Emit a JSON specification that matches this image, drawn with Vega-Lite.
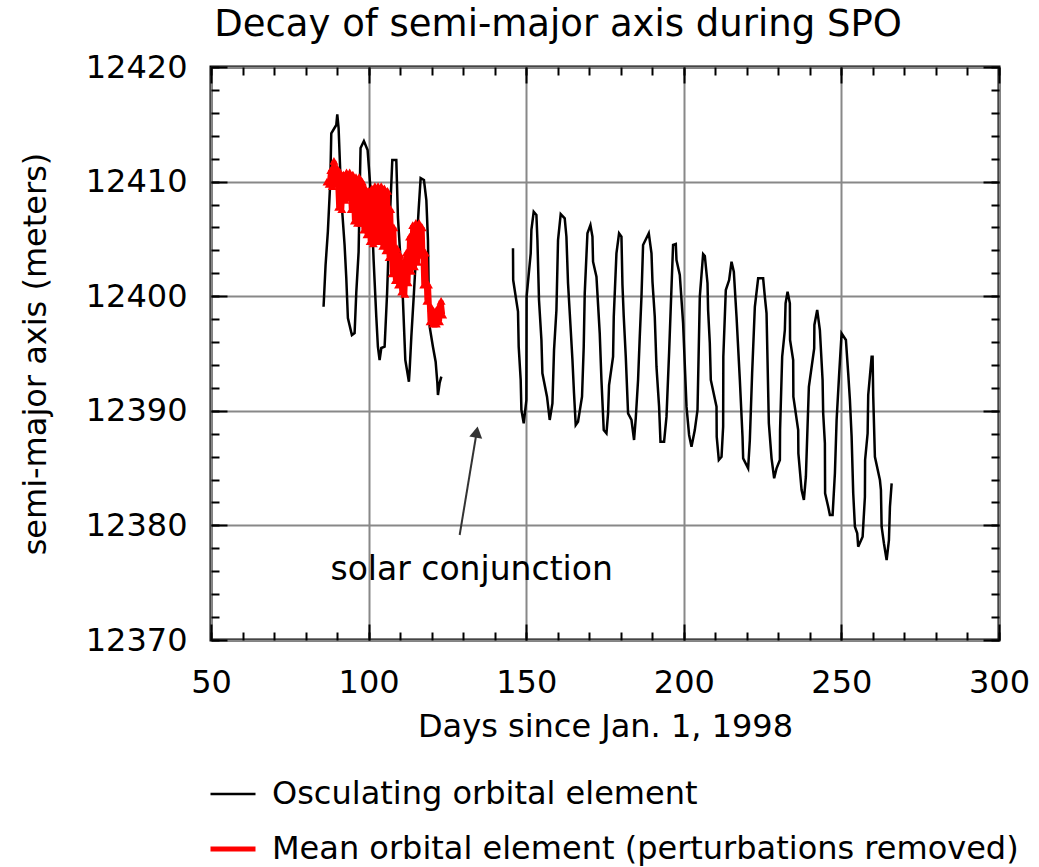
{
"$schema": "https://vega.github.io/schema/vega-lite/v6.json",
"width": 788, "height": 573,
"autosize": {"type": "none"},
"padding": {"left": 211, "top": 67, "right": 40, "bottom": 227},
"background": "white",
"title": {"text": "Decay of semi-major axis during SPO", "fontSize": 37, "fontWeight": "normal", "font": "DejaVu Sans", "color": "black", "anchor": "middle", "dx": -47, "baseline": "alphabetic", "offset": -22, "frame": "group"},
"datasets": {
"osc": [
{"d":85.71,"a":12399.08,"s":"osc","g":1},{"d":86.35,"a":12402.72,"s":"osc","g":1},{"d":87.08,"a":12405.65,"s":"osc","g":1},{"d":87.84,"a":12409.99,"s":"osc","g":1},{"d":88.16,"a":12414.21,"s":"osc","g":1},{"d":89.75,"a":12414.94,"s":"osc","g":1},{"d":90.06,"a":12415.87,"s":"osc","g":1},{"d":90.48,"a":12414.68,"s":"osc","g":1},{"d":91.33,"a":12408.57,"s":"osc","g":1},{"d":92.38,"a":12404.47,"s":"osc","g":1},{"d":92.92,"a":12401.59,"s":"osc","g":1},{"d":93.43,"a":12398.10,"s":"osc","g":1},{"d":94.70,"a":12396.61,"s":"osc","g":1},{"d":95.56,"a":12396.79,"s":"osc","g":1},{"d":96.10,"a":12400.37,"s":"osc","g":1},{"d":96.83,"a":12403.86,"s":"osc","g":1},{"d":97.30,"a":12410.86,"s":"osc","g":1},{"d":97.45,"a":12412.93,"s":"osc","g":1},{"d":98.51,"a":12413.54,"s":"osc","g":1},{"d":99.68,"a":12412.76,"s":"osc","g":1},{"d":100.86,"a":12408.39,"s":"osc","g":1},{"d":101.59,"a":12403.16,"s":"osc","g":1},{"d":102.44,"a":12398.21,"s":"osc","g":1},{"d":102.95,"a":12395.59,"s":"osc","g":1},{"d":103.49,"a":12394.43,"s":"osc","g":1},{"d":104.03,"a":12395.48,"s":"osc","g":1},{"d":105.08,"a":12395.59,"s":"osc","g":1},{"d":105.87,"a":12400.28,"s":"osc","g":1},{"d":106.44,"a":12404.90,"s":"osc","g":1},{"d":107.21,"a":12409.85,"s":"osc","g":1},{"d":107.52,"a":12411.88,"s":"osc","g":1},{"d":108.79,"a":12411.88,"s":"osc","g":1},{"d":109.30,"a":12406.94,"s":"osc","g":1},{"d":110.38,"a":12402.02,"s":"osc","g":1},{"d":110.89,"a":12399.67,"s":"osc","g":1},{"d":111.65,"a":12394.43,"s":"osc","g":1},{"d":112.79,"a":12392.54,"s":"osc","g":1},{"d":113.02,"a":12393.56,"s":"osc","g":1},{"d":113.56,"a":12396.47,"s":"osc","g":1},{"d":114.38,"a":12400.28,"s":"osc","g":1},{"d":115.14,"a":12404.03,"s":"osc","g":1},{"d":115.87,"a":12407.52,"s":"osc","g":1},{"d":116.51,"a":12410.31,"s":"osc","g":1},{"d":117.56,"a":12410.14,"s":"osc","g":1},{"d":118.32,"a":12408.39,"s":"osc","g":1},{"d":118.83,"a":12404.90,"s":"osc","g":1},{"d":119.05,"a":12400.54,"s":"osc","g":1},{"d":119.37,"a":12397.34,"s":"osc","g":1},{"d":120.41,"a":12395.59,"s":"osc","g":1},{"d":121.27,"a":12394.28,"s":"osc","g":1},{"d":121.81,"a":12392.43,"s":"osc","g":1},{"d":122.00,"a":12391.38,"s":"osc","g":1},{"d":122.54,"a":12392.43,"s":"osc","g":1},{"d":123.08,"a":12392.98,"s":"osc","g":1},
{"d":145.81,"a":12404.18,"s":"osc","g":2},{"d":145.87,"a":12401.41,"s":"osc","g":2},{"d":147.40,"a":12398.65,"s":"osc","g":2},{"d":147.62,"a":12395.59,"s":"osc","g":2},{"d":148.25,"a":12392.69,"s":"osc","g":2},{"d":148.48,"a":12390.07,"s":"osc","g":2},{"d":149.21,"a":12388.91,"s":"osc","g":2},{"d":150.06,"a":12390.94,"s":"osc","g":2},{"d":150.13,"a":12399.96,"s":"osc","g":2},{"d":151.43,"a":12403.74,"s":"osc","g":2},{"d":151.65,"a":12405.78,"s":"osc","g":2},{"d":152.38,"a":12407.37,"s":"osc","g":2},{"d":153.24,"a":12407.09,"s":"osc","g":2},{"d":153.56,"a":12404.90,"s":"osc","g":2},{"d":154.06,"a":12399.67,"s":"osc","g":2},{"d":154.83,"a":12396.18,"s":"osc","g":2},{"d":155.14,"a":12393.27,"s":"osc","g":2},{"d":156.60,"a":12391.23,"s":"osc","g":2},{"d":157.46,"a":12389.20,"s":"osc","g":2},{"d":158.32,"a":12390.65,"s":"osc","g":2},{"d":158.83,"a":12395.30,"s":"osc","g":2},{"d":159.59,"a":12398.80,"s":"osc","g":2},{"d":160.10,"a":12404.90,"s":"osc","g":2},{"d":160.95,"a":12407.17,"s":"osc","g":2},{"d":162.22,"a":12406.80,"s":"osc","g":2},{"d":162.76,"a":12405.19,"s":"osc","g":2},{"d":163.27,"a":12401.13,"s":"osc","g":2},{"d":164.13,"a":12397.05,"s":"osc","g":2},{"d":164.67,"a":12394.43,"s":"osc","g":2},{"d":165.17,"a":12391.53,"s":"osc","g":2},{"d":165.71,"a":12388.76,"s":"osc","g":2},{"d":166.44,"a":12389.05,"s":"osc","g":2},{"d":167.71,"a":12391.23,"s":"osc","g":2},{"d":168.25,"a":12395.59,"s":"osc","g":2},{"d":168.57,"a":12400.25,"s":"osc","g":2},{"d":169.43,"a":12405.49,"s":"osc","g":2},{"d":170.38,"a":12406.21,"s":"osc","g":2},{"d":171.02,"a":12405.19,"s":"osc","g":2},{"d":171.21,"a":12403.01,"s":"osc","g":2},{"d":172.29,"a":12401.70,"s":"osc","g":2},{"d":173.33,"a":12396.76,"s":"osc","g":2},{"d":173.87,"a":12392.69,"s":"osc","g":2},{"d":174.60,"a":12388.32,"s":"osc","g":2},{"d":175.46,"a":12388.04,"s":"osc","g":2},{"d":175.97,"a":12389.78,"s":"osc","g":2},{"d":176.29,"a":12392.25,"s":"osc","g":2},{"d":177.56,"a":12394.72,"s":"osc","g":2},{"d":177.78,"a":12398.21,"s":"osc","g":2},{"d":178.63,"a":12403.74,"s":"osc","g":2},{"d":179.46,"a":12405.49,"s":"osc","g":2},{"d":180.22,"a":12405.19,"s":"osc","g":2},{"d":180.54,"a":12400.98,"s":"osc","g":2},{"d":180.95,"a":12398.21,"s":"osc","g":2},{"d":181.59,"a":12394.72,"s":"osc","g":2},{"d":182.32,"a":12389.78,"s":"osc","g":2},{"d":183.40,"a":12389.20,"s":"osc","g":2},{"d":184.22,"a":12387.45,"s":"osc","g":2},{"d":184.76,"a":12389.35,"s":"osc","g":2},{"d":185.49,"a":12392.69,"s":"osc","g":2},{"d":186.03,"a":12396.47,"s":"osc","g":2},{"d":186.57,"a":12399.96,"s":"osc","g":2},{"d":187.08,"a":12404.47,"s":"osc","g":2},{"d":188.89,"a":12405.49,"s":"osc","g":2},{"d":189.75,"a":12403.74,"s":"osc","g":2},{"d":190.06,"a":12401.27,"s":"osc","g":2},{"d":190.79,"a":12398.21,"s":"osc","g":2},{"d":191.33,"a":12393.85,"s":"osc","g":2},{"d":192.16,"a":12390.36,"s":"osc","g":2},{"d":192.60,"a":12387.30,"s":"osc","g":2},{"d":193.75,"a":12387.30,"s":"osc","g":2},{"d":194.51,"a":12389.49,"s":"osc","g":2},{"d":195.33,"a":12395.02,"s":"osc","g":2},{"d":195.87,"a":12399.08,"s":"osc","g":2},{"d":196.60,"a":12404.47,"s":"osc","g":2},{"d":197.46,"a":12404.55,"s":"osc","g":2},{"d":197.68,"a":12403.16,"s":"osc","g":2},{"d":198.73,"a":12401.85,"s":"osc","g":2},{"d":199.78,"a":12397.63,"s":"osc","g":2},{"d":200.86,"a":12390.36,"s":"osc","g":2},{"d":201.68,"a":12387.89,"s":"osc","g":2},{"d":202.44,"a":12386.87,"s":"osc","g":2},{"d":203.49,"a":12388.32,"s":"osc","g":2},{"d":204.35,"a":12390.07,"s":"osc","g":2},{"d":205.08,"a":12399.96,"s":"osc","g":2},{"d":206.13,"a":12403.68,"s":"osc","g":2},{"d":206.67,"a":12403.51,"s":"osc","g":2},{"d":207.52,"a":12401.13,"s":"osc","g":2},{"d":207.71,"a":12398.80,"s":"osc","g":2},{"d":208.25,"a":12395.89,"s":"osc","g":2},{"d":208.57,"a":12392.69,"s":"osc","g":2},{"d":210.38,"a":12390.36,"s":"osc","g":2},{"d":210.44,"a":12387.74,"s":"osc","g":2},{"d":211.11,"a":12385.71,"s":"osc","g":2},{"d":211.97,"a":12385.99,"s":"osc","g":2},{"d":212.48,"a":12388.61,"s":"osc","g":2},{"d":212.54,"a":12394.72,"s":"osc","g":2},{"d":213.33,"a":12400.54,"s":"osc","g":2},{"d":214.38,"a":12401.41,"s":"osc","g":2},{"d":215.14,"a":12403.01,"s":"osc","g":2},{"d":215.87,"a":12402.14,"s":"osc","g":2},{"d":216.73,"a":12398.21,"s":"osc","g":2},{"d":217.78,"a":12392.69,"s":"osc","g":2},{"d":218.63,"a":12387.74,"s":"osc","g":2},{"d":218.83,"a":12385.85,"s":"osc","g":2},{"d":220.41,"a":12384.98,"s":"osc","g":2},{"d":220.95,"a":12387.45,"s":"osc","g":2},{"d":221.68,"a":12393.27,"s":"osc","g":2},{"d":222.54,"a":12399.08,"s":"osc","g":2},{"d":223.59,"a":12401.56,"s":"osc","g":2},{"d":225.17,"a":12401.56,"s":"osc","g":2},{"d":225.71,"a":12399.96,"s":"osc","g":2},{"d":226.25,"a":12398.51,"s":"osc","g":2},{"d":226.98,"a":12388.91,"s":"osc","g":2},{"d":227.84,"a":12385.85,"s":"osc","g":2},{"d":228.67,"a":12384.11,"s":"osc","g":2},{"d":229.43,"a":12384.98,"s":"osc","g":2},{"d":230.48,"a":12385.71,"s":"osc","g":2},{"d":230.54,"a":12388.32,"s":"osc","g":2},{"d":231.21,"a":12394.72,"s":"osc","g":2},{"d":232.06,"a":12397.05,"s":"osc","g":2},{"d":232.29,"a":12399.38,"s":"osc","g":2},{"d":232.92,"a":12400.39,"s":"osc","g":2},{"d":233.65,"a":12399.38,"s":"osc","g":2},{"d":233.71,"a":12396.18,"s":"osc","g":2},{"d":234.70,"a":12394.43,"s":"osc","g":2},{"d":234.76,"a":12391.23,"s":"osc","g":2},{"d":236.29,"a":12388.32,"s":"osc","g":2},{"d":236.35,"a":12386.29,"s":"osc","g":2},{"d":237.37,"a":12383.09,"s":"osc","g":2},{"d":238.10,"a":12382.22,"s":"osc","g":2},{"d":238.73,"a":12384.25,"s":"osc","g":2},{"d":239.68,"a":12392.10,"s":"osc","g":2},{"d":241.37,"a":12395.45,"s":"osc","g":2},{"d":241.43,"a":12397.49,"s":"osc","g":2},{"d":242.32,"a":12398.80,"s":"osc","g":2},{"d":243.17,"a":12397.05,"s":"osc","g":2},{"d":244.03,"a":12392.69,"s":"osc","g":2},{"d":244.22,"a":12389.78,"s":"osc","g":2},{"d":244.76,"a":12387.16,"s":"osc","g":2},{"d":244.83,"a":12382.80,"s":"osc","g":2},{"d":245.81,"a":12381.63,"s":"osc","g":2},{"d":246.35,"a":12380.91,"s":"osc","g":2},{"d":247.21,"a":12380.91,"s":"osc","g":2},{"d":247.94,"a":12384.55,"s":"osc","g":2},{"d":248.48,"a":12389.20,"s":"osc","g":2},{"d":249.30,"a":12393.27,"s":"osc","g":2},{"d":250.06,"a":12396.76,"s":"osc","g":2},{"d":251.43,"a":12396.18,"s":"osc","g":2},{"d":252.16,"a":12393.27,"s":"osc","g":2},{"d":252.70,"a":12390.94,"s":"osc","g":2},{"d":253.24,"a":12387.74,"s":"osc","g":2},{"d":253.75,"a":12382.80,"s":"osc","g":2},{"d":254.29,"a":12379.89,"s":"osc","g":2},{"d":255.02,"a":12379.31,"s":"osc","g":2},{"d":255.33,"a":12378.14,"s":"osc","g":2},{"d":256.73,"a":12379.01,"s":"osc","g":2},{"d":257.46,"a":12382.50,"s":"osc","g":2},{"d":257.52,"a":12385.71,"s":"osc","g":2},{"d":258.32,"a":12388.04,"s":"osc","g":2},{"d":258.51,"a":12391.38,"s":"osc","g":2},{"d":259.59,"a":12394.72,"s":"osc","g":2},{"d":259.90,"a":12394.72,"s":"osc","g":2},{"d":260.10,"a":12391.23,"s":"osc","g":2},{"d":260.63,"a":12385.99,"s":"osc","g":2},{"d":262.22,"a":12383.96,"s":"osc","g":2},{"d":262.54,"a":12383.09,"s":"osc","g":2},{"d":262.76,"a":12379.89,"s":"osc","g":2},{"d":263.49,"a":12378.44,"s":"osc","g":2},{"d":264.35,"a":12376.98,"s":"osc","g":2},{"d":265.08,"a":12378.72,"s":"osc","g":2},{"d":265.40,"a":12381.63,"s":"osc","g":2},{"d":265.94,"a":12383.67,"s":"osc","g":2}
],
"mean": [
{"d":86.8,"a":12410.0,"s":"mean"},{"d":87.5,"a":12409.8,"s":"mean"},{"d":88.0,"a":12411.0,"s":"mean"},{"d":88.5,"a":12409.6,"s":"mean"},{"d":89.0,"a":12411.8,"s":"mean"},{"d":89.5,"a":12409.8,"s":"mean"},{"d":90.0,"a":12411.2,"s":"mean"},{"d":90.5,"a":12407.8,"s":"mean"},{"d":91.0,"a":12410.8,"s":"mean"},{"d":91.5,"a":12407.6,"s":"mean"},{"d":92.0,"a":12410.6,"s":"mean"},{"d":92.5,"a":12408.4,"s":"mean"},{"d":93.0,"a":12410.8,"s":"mean"},{"d":93.5,"a":12408.6,"s":"mean"},{"d":94.0,"a":12410.8,"s":"mean"},{"d":94.5,"a":12407.6,"s":"mean"},{"d":95.0,"a":12410.6,"s":"mean"},{"d":95.5,"a":12406.6,"s":"mean"},{"d":96.0,"a":12410.4,"s":"mean"},{"d":96.5,"a":12406.4,"s":"mean"},{"d":97.0,"a":12410.4,"s":"mean"},{"d":97.5,"a":12406.4,"s":"mean"},{"d":98.0,"a":12410.0,"s":"mean"},{"d":98.5,"a":12405.8,"s":"mean"},{"d":99.0,"a":12409.4,"s":"mean"},{"d":99.5,"a":12405.4,"s":"mean"},{"d":100.0,"a":12409.2,"s":"mean"},{"d":100.5,"a":12404.8,"s":"mean"},{"d":101.0,"a":12409.4,"s":"mean"},{"d":101.5,"a":12404.6,"s":"mean"},{"d":102.0,"a":12409.6,"s":"mean"},{"d":102.5,"a":12404.8,"s":"mean"},{"d":103.0,"a":12409.6,"s":"mean"},{"d":103.5,"a":12404.8,"s":"mean"},{"d":104.0,"a":12409.6,"s":"mean"},{"d":104.5,"a":12404.4,"s":"mean"},{"d":105.0,"a":12409.4,"s":"mean"},{"d":105.5,"a":12404.0,"s":"mean"},{"d":106.0,"a":12409.2,"s":"mean"},{"d":106.5,"a":12403.4,"s":"mean"},{"d":107.0,"a":12407.6,"s":"mean"},{"d":107.5,"a":12402.0,"s":"mean"},{"d":108.0,"a":12406.0,"s":"mean"},{"d":108.5,"a":12401.4,"s":"mean"},{"d":109.0,"a":12404.2,"s":"mean"},{"d":109.5,"a":12401.0,"s":"mean"},{"d":110.0,"a":12403.6,"s":"mean"},{"d":110.5,"a":12400.4,"s":"mean"},{"d":111.0,"a":12403.0,"s":"mean"},{"d":111.5,"a":12400.2,"s":"mean"},{"d":112.0,"a":12403.8,"s":"mean"},{"d":112.5,"a":12401.2,"s":"mean"},{"d":113.0,"a":12405.2,"s":"mean"},{"d":113.5,"a":12402.2,"s":"mean"},{"d":114.0,"a":12406.2,"s":"mean"},{"d":114.5,"a":12402.6,"s":"mean"},{"d":115.0,"a":12406.4,"s":"mean"},{"d":115.5,"a":12403.0,"s":"mean"},{"d":116.0,"a":12406.4,"s":"mean"},{"d":116.5,"a":12403.6,"s":"mean"},{"d":117.0,"a":12406.0,"s":"mean"},{"d":117.5,"a":12401.0,"s":"mean"},{"d":118.0,"a":12403.8,"s":"mean"},{"d":118.5,"a":12399.6,"s":"mean"},{"d":119.0,"a":12401.0,"s":"mean"},{"d":119.5,"a":12397.8,"s":"mean"},{"d":120.0,"a":12399.0,"s":"mean"},{"d":120.5,"a":12397.6,"s":"mean"},{"d":121.0,"a":12398.6,"s":"mean"},{"d":121.5,"a":12397.6,"s":"mean"},{"d":122.0,"a":12399.0,"s":"mean"},{"d":122.5,"a":12397.8,"s":"mean"},{"d":123.0,"a":12399.6,"s":"mean"},{"d":123.5,"a":12398.4,"s":"mean"}
],
"note": [{"d":132.7,"a":12376.1,"t":"solar conjunction"}],
"arrow": [{"d":128.89,"a":12379.16,"d2":134.29,"a2":12388.15}],
"head": [{"d":134.29,"a":12388.15}]
},
"layer": [
{
"data": {"name": "osc"},
"mark": {"type": "line", "interpolate": "linear", "strokeJoin": "miter"},
"encoding": {
"x": {"field": "d", "type": "quantitative", "scale": {"domain": [50, 300], "nice": false, "zero": false},
 "axis": {"orient": "bottom", "values": [50,100,150,200,250,300], "grid": true, "gridColor": "#888888", "gridWidth": 2, "domain": false, "ticks": true, "tickSize": -16, "tickWidth": 2, "tickColor": "black", "labelFontSize": 32, "labelFont": "DejaVu Sans", "labelColor": "black", "labelPadding": 43, "labelFlush": false, "labelOverlap": false, "title": "Days since Jan. 1, 1998", "titleFontSize": 32, "titleFont": "DejaVu Sans", "titleFontWeight": "normal", "titleColor": "black", "titlePadding": 13}},
"y": {"field": "a", "type": "quantitative", "scale": {"domain": [12370, 12420], "nice": false, "zero": false},
 "axis": {"orient": "left", "values": [12370,12380,12390,12400,12410,12420], "grid": true, "gridColor": "#888888", "gridWidth": 2, "domain": false, "ticks": true, "tickSize": -16, "tickWidth": 2, "tickColor": "black", "labelFontSize": 32, "labelFont": "DejaVu Sans", "labelColor": "black", "labelPadding": 40, "labelFlush": false, "labelOverlap": false, "format": "d", "title": "semi-major axis (meters)", "titleFontSize": 32, "titleFont": "DejaVu Sans", "titleFontWeight": "normal", "titleColor": "black", "titlePadding": 33}},
"detail": {"field": "g", "type": "nominal"},
"color": {"field": "s", "type": "nominal", "scale": {"domain": ["osc", "mean"], "range": ["black", "#ff0000"]},
 "legend": {"orient": "none", "legendX": -3, "legendY": 703, "direction": "vertical", "title": null, "symbolType": "stroke", "symbolSize": 2025, "labelFontSize": 32, "labelFont": "DejaVu Sans", "labelColor": "black", "labelOffset": 14, "rowPadding": 14, "labelLimit": 900, "labelExpr": "datum.label == 'osc' ? 'Osculating orbital element' : 'Mean orbital element (perturbations removed)'"}},
"strokeWidth": {"field": "s", "type": "nominal", "scale": {"domain": ["osc", "mean"], "range": [2.5, 5]}}
}
},
{
"data": {"name": "mean"},
"mark": {"type": "line", "interpolate": "linear"},
"encoding": {
"x": {"field": "d", "type": "quantitative", "scale": {"domain": [50, 300], "nice": false, "zero": false},
 "axis": {"orient": "bottom", "values": [50,60,70,80,90,100,110,120,130,140,150,160,170,180,190,200,210,220,230,240,250,260,270,280,290,300], "grid": false, "domain": false, "labels": false, "ticks": true, "tickSize": -8, "tickWidth": 2, "tickColor": "black", "title": null}},
"y": {"field": "a", "type": "quantitative", "scale": {"domain": [12370, 12420], "nice": false, "zero": false},
 "axis": {"orient": "left", "values": [12370,12372,12374,12376,12378,12380,12382,12384,12386,12388,12390,12392,12394,12396,12398,12400,12402,12404,12406,12408,12410,12412,12414,12416,12418,12420], "grid": false, "domain": false, "labels": false, "ticks": true, "tickSize": -8, "tickWidth": 2, "tickColor": "black", "title": null}},
"color": {"field": "s", "type": "nominal", "scale": {"domain": ["osc", "mean"], "range": ["black", "#ff0000"]}},
"strokeWidth": {"field": "s", "type": "nominal", "scale": {"domain": ["osc", "mean"], "range": [2.5, 5]}}
}
},
{
"data": {"name": "mean"},
"mark": {"type": "point", "shape": "triangle-up", "filled": true, "color": "#ff0000", "size": 80, "opacity": 1},
"encoding": {
"x": {"field": "d", "type": "quantitative", "scale": {"domain": [50, 300], "nice": false, "zero": false},
 "axis": {"orient": "top", "values": [50,100,150,200,250,300], "grid": false, "domain": false, "labels": false, "ticks": true, "tickSize": -16, "tickWidth": 2, "tickColor": "black", "title": null}},
"y": {"field": "a", "type": "quantitative", "scale": {"domain": [12370, 12420], "nice": false, "zero": false},
 "axis": {"orient": "right", "values": [12370,12380,12390,12400,12410,12420], "grid": false, "domain": false, "labels": false, "ticks": true, "tickSize": -16, "tickWidth": 2, "tickColor": "black", "title": null}}
}
},
{
"data": {"name": "note"},
"mark": {"type": "text", "font": "DejaVu Sans", "fontSize": 33, "color": "black", "align": "center", "baseline": "middle"},
"encoding": {
"x": {"field": "d", "type": "quantitative", "scale": {"domain": [50, 300], "nice": false, "zero": false},
 "axis": {"orient": "top", "values": [50,60,70,80,90,100,110,120,130,140,150,160,170,180,190,200,210,220,230,240,250,260,270,280,290,300], "grid": false, "domain": false, "labels": false, "ticks": true, "tickSize": -8, "tickWidth": 2, "tickColor": "black", "title": null}},
"y": {"field": "a", "type": "quantitative", "scale": {"domain": [12370, 12420], "nice": false, "zero": false},
 "axis": {"orient": "right", "values": [12370,12372,12374,12376,12378,12380,12382,12384,12386,12388,12390,12392,12394,12396,12398,12400,12402,12404,12406,12408,12410,12412,12414,12416,12418,12420], "grid": false, "domain": false, "labels": false, "ticks": true, "tickSize": -8, "tickWidth": 2, "tickColor": "black", "title": null}},
"text": {"field": "t", "type": "nominal"}
}
},
{
"data": {"name": "arrow"},
"mark": {"type": "rule", "color": "#333333", "strokeWidth": 2},
"encoding": {
"x": {"field": "d", "type": "quantitative", "axis": null},
"y": {"field": "a", "type": "quantitative", "axis": null},
"x2": {"field": "d2"},
"y2": {"field": "a2"}
}
},
{
"data": {"name": "head"},
"mark": {"type": "point", "shape": "triangle-up", "filled": true, "color": "#333333", "size": 170, "angle": 9.5, "opacity": 1},
"encoding": {
"x": {"field": "d", "type": "quantitative", "axis": null},
"y": {"field": "a", "type": "quantitative", "axis": null}
}
}
],
"resolve": {"axis": {"x": "independent", "y": "independent"}},
"config": {"view": {"stroke": "black", "strokeWidth": 3}, "font": "DejaVu Sans"}
}
